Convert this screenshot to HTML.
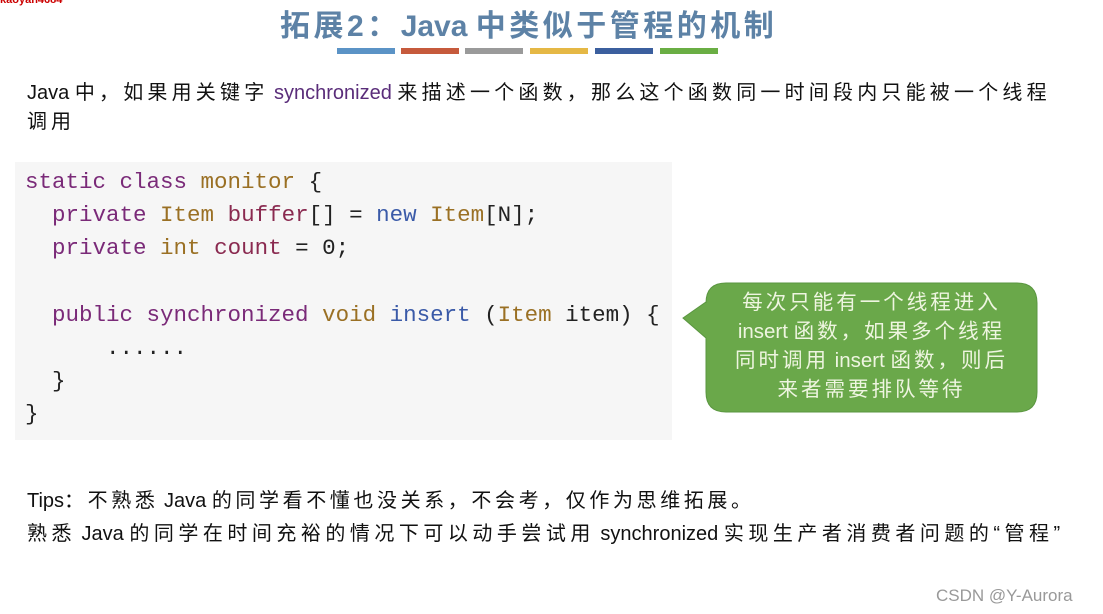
<!DOCTYPE html>
<html><head><meta charset="utf-8"><style>
body{margin:0;width:1103px;height:614px;background:#fff;position:relative;overflow:hidden;font-family:"Liberation Sans","Noto Sans CJK SC",sans-serif;}
.a{position:absolute;white-space:nowrap;}
.code{position:absolute;left:15px;top:162px;width:657px;height:278px;background:#f6f6f6;}
.code pre{margin:0;position:absolute;left:10px;top:4px;font-family:"Liberation Mono",monospace;font-size:22.5px;line-height:33.2px;color:#222;}
.k{color:#7a2a78}.t{color:#9a7024}.v{color:#8a2a50}.f{color:#3a5aa8}
.tx{font-size:20px;color:#111;}
.l{letter-spacing:0}
</style></head><body>
<div class="a" style="left:0;top:-6px;font-size:11px;color:#c00;font-weight:bold">kaoyan4684</div>
<div class="a" style="left:280px;top:1px;font-size:30px;font-weight:bold;color:#5d82a6;letter-spacing:3.5px">拓展2：<span class="l">Java </span>中类似于管程的机制</div>
<div class="a" style="left:337px;top:48px;width:58px;height:6px;background:#5b93c6"></div>
<div class="a" style="left:401px;top:48px;width:58px;height:6px;background:#c65a3c"></div>
<div class="a" style="left:465px;top:48px;width:58px;height:6px;background:#9a9a9a"></div>
<div class="a" style="left:530px;top:48px;width:58px;height:6px;background:#e5b845"></div>
<div class="a" style="left:595px;top:48px;width:58px;height:6px;background:#3b5f9e"></div>
<div class="a" style="left:660px;top:48px;width:58px;height:6px;background:#6aae44"></div>
<div class="a tx" style="left:27px;top:76px;letter-spacing:4.2px"><span class="l">Java </span>中，如果用关键字<span class="l"> <span style="color:#5a2d7a">synchronized</span> </span>来描述一个函数，那么这个函数同一时间段内只能被一个线程</div>
<div class="a tx" style="left:27px;top:105px;letter-spacing:4px">调用</div>
<div class="code"><pre><span class="k">static class</span> <span class="t">monitor</span> {
  <span class="k">private</span> <span class="t">Item</span> <span class="v">buffer</span>[] = <span class="f">new</span> <span class="t">Item</span>[N];
  <span class="k">private</span> <span class="t">int</span> <span class="v">count</span> = 0;

  <span class="k">public synchronized</span> <span class="t">void</span> <span class="f">insert</span> (<span class="t">Item</span> item) {
      ......
  }
}</pre></div>
<svg class="a" style="left:0;top:0" width="1103" height="614">
<path d="M726,283 H1017 Q1037,283 1037,303 V392 Q1037,412 1017,412 H726 Q706,412 706,392 V338 L683,318 L706,302 V303 Q706,283 726,283 Z" fill="#6aa84a" stroke="#5a9640" stroke-width="1"/>
</svg>
<div class="a" style="left:706px;top:288px;width:331px;text-align:center;font-size:20.5px;line-height:29px;color:#eef5e0;white-space:normal;letter-spacing:3px">每次只能有一个线程进入<br><span class="l">insert </span>函数，如果多个线程<br>同时调用<span class="l"> insert </span>函数，则后<br>来者需要排队等待</div>
<div class="a tx" style="left:27px;top:484px;letter-spacing:3.6px"><span class="l">Tips</span>：不熟悉<span class="l"> Java </span>的同学看不懂也没关系，不会考，仅作为思维拓展。</div>
<div class="a tx" style="left:27px;top:517px;letter-spacing:4.5px">熟悉<span class="l"> Java </span>的同学在时间充裕的情况下可以动手尝试用<span class="l"> synchronized </span>实现生产者消费者问题的“管程”</div>
<div class="a" style="left:936px;top:586px;font-size:17px;color:#999">CSDN @Y-Aurora</div>
</body></html>
